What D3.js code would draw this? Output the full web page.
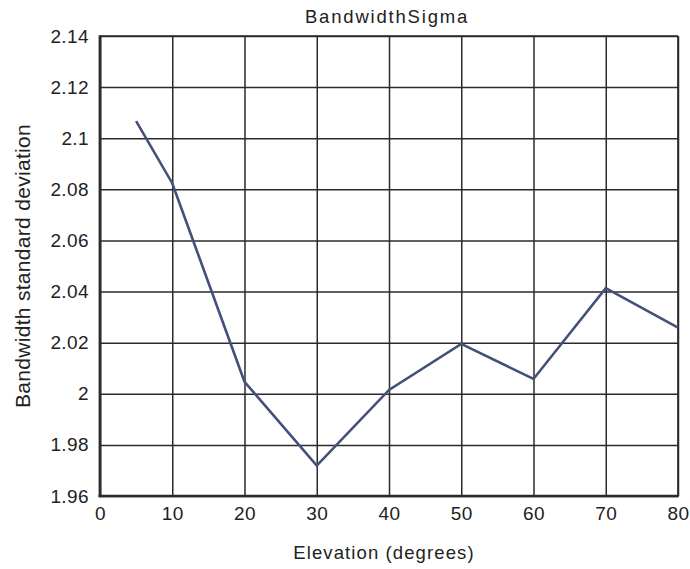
<!DOCTYPE html>
<html>
<head>
<meta charset="utf-8">
<script src="https://cdn.jsdelivr.net/npm/d3@7"></script>
<style>
  html, body { margin: 0; padding: 0; background: #fff; }
  svg { display: block; font-family: "Liberation Sans", Arial, sans-serif; }
</style>
</head>
<body>
<svg id="chart" width="690" height="569"></svg>
<script>
// Bandwidth standard deviation versus elevation angle
const elevation = [5, 10, 20, 30, 40, 50, 60, 70, 80];
const sigma = [2.1067, 2.0824, 2.0047, 1.9719, 2.0015, 2.0195, 2.0058, 2.0413, 2.0259];
const xTicks = [0, 10, 20, 30, 40, 50, 60, 70, 80];
const yTicks = [1.96, 1.98, 2, 2.02, 2.04, 2.06, 2.08, 2.1, 2.12, 2.14];

const titleText = "BandwidthSigma";
const xLabelText = "Elevation (degrees)";
const yLabelText = "Bandwidth standard deviation";

const svg = d3.select("#chart");
const margin = { left: 100, top: 36, right: 12, bottom: 73 };
const W = 690, H = 569;
const plotW = W - margin.left - margin.right;
const plotH = H - margin.top - margin.bottom;

const x = d3.scaleLinear().domain([0, 80]).range([0, plotW]);
const y = d3.scaleLinear().domain([1.96, 2.14]).range([plotH, 0]);

const g = svg.append("g").attr("transform", `translate(${margin.left},${margin.top})`);

// grid
const gridColor = "#2b2b2b";
g.append("g")
  .attr("class", "grid-x")
  .call(d3.axisBottom(x).tickValues(xTicks).tickSize(-plotH).tickFormat(""))
  .attr("transform", `translate(0,${plotH})`)
  .call(s => s.select(".domain").remove())
  .call(s => s.selectAll("line").attr("stroke", gridColor).attr("stroke-width", 1.5));

g.append("g")
  .attr("class", "grid-y")
  .call(d3.axisLeft(y).tickValues(yTicks).tickSize(-plotW).tickFormat(""))
  .call(s => s.select(".domain").remove())
  .call(s => s.selectAll("line").attr("stroke", gridColor).attr("stroke-width", 1.5));

// frame: thinner top/right, heavier left/bottom
g.append("line").attr("x1", 0).attr("x2", plotW).attr("y1", 0).attr("y2", 0)
  .attr("stroke", gridColor).attr("stroke-width", 1.7);
g.append("line").attr("x1", plotW).attr("x2", plotW).attr("y1", 0).attr("y2", plotH)
  .attr("stroke", gridColor).attr("stroke-width", 1.7);
g.append("line").attr("x1", 0).attr("x2", 0).attr("y1", -0.8).attr("y2", plotH + 1.2)
  .attr("stroke", gridColor).attr("stroke-width", 2.8);
g.append("line").attr("x1", -1.4).attr("x2", plotW + 0.8).attr("y1", plotH).attr("y2", plotH)
  .attr("stroke", gridColor).attr("stroke-width", 2.4);

// tick labels
const labelColor = "#222";
const yAxis = g.append("g")
  .call(d3.axisLeft(y).tickValues(yTicks).tickSize(0).tickPadding(11).tickFormat(d3.format("")))
  .call(s => s.select(".domain").remove());
yAxis.selectAll("text")
  .attr("fill", labelColor)
  .style("font-size", "19px")
  .style("letter-spacing", "0.4px")
  .style("font-family", "'Liberation Sans', Arial, sans-serif");

const xAxis = g.append("g")
  .attr("transform", `translate(0,${plotH})`)
  .call(d3.axisBottom(x).tickValues(xTicks).tickSize(0).tickPadding(11).tickFormat(d3.format("")))
  .call(s => s.select(".domain").remove());
xAxis.selectAll("text")
  .attr("fill", labelColor)
  .style("font-size", "19px")
  .style("letter-spacing", "0.4px")
  .style("font-family", "'Liberation Sans', Arial, sans-serif");

// data line
const line = d3.line().x(d => x(d[0])).y(d => y(d[1]));
g.append("path")
  .datum(elevation.map((e, i) => [e, sigma[i]]))
  .attr("d", line)
  .attr("fill", "none")
  .attr("stroke", "#43507a")
  .attr("stroke-width", 2.6)
  .attr("stroke-linejoin", "miter");

// title and axis labels
svg.append("text")
  .attr("x", 387)
  .attr("y", 23)
  .attr("text-anchor", "middle")
  .attr("fill", labelColor)
  .style("font-size", "18.5px")
  .style("letter-spacing", "1.8px")
  .text(titleText);

svg.append("text")
  .attr("x", 384)
  .attr("y", 559)
  .attr("text-anchor", "middle")
  .attr("fill", labelColor)
  .style("font-size", "18.5px")
  .style("letter-spacing", "1.1px")
  .text(xLabelText);

svg.append("text")
  .attr("transform", `translate(30,${margin.top + plotH / 2}) rotate(-90)`)
  .attr("text-anchor", "middle")
  .attr("fill", labelColor)
  .style("font-size", "21px")
  .style("letter-spacing", "0.3px")
  .text(yLabelText);
</script>
</body>
</html>
